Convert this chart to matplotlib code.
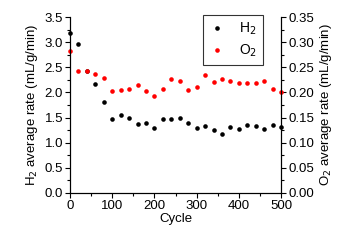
import matplotlib
matplotlib.use('Agg')
import matplotlib.pyplot as plt
from matplotlib.ticker import MultipleLocator

plt.rcParams['font.family'] = ['Liberation Sans', 'DejaVu Sans']

# data
cycle = [0, 20, 40, 60, 80, 100, 120, 140, 160, 180, 200, 220, 240, 260,
         280, 300, 320, 340, 360, 380, 400, 420, 440, 460, 480, 500]
h2 = [3.19, 2.96, 2.43, 2.16, 1.81, 1.48, 1.56, 1.50, 1.37, 1.39, 1.29, 1.48, 1.48, 1.50,
      1.40, 1.30, 1.33, 1.26, 1.18, 1.31, 1.28, 1.36, 1.33, 1.28, 1.35, 1.32]
o2 = [0.283, 0.243, 0.242, 0.237, 0.229, 0.202, 0.205, 0.207, 0.215, 0.202, 0.192, 0.207, 0.227, 0.223,
      0.205, 0.210, 0.235, 0.221, 0.227, 0.223, 0.218, 0.218, 0.218, 0.222, 0.206, 0.201]

fig = plt.figure(figsize=(3.59, 2.40), dpi=100)
ax = fig.add_axes([0.195, 0.196, 0.588, 0.733])
ax2 = ax.twinx()

l1, = ax.plot(cycle, h2, 'o', color='black', ms=3.3, mew=0, label='H$_2$', clip_on=False)
l2, = ax2.plot(cycle, o2, 'o', color='red', ms=3.3, mew=0, label='O$_2$', clip_on=False)

ax.set_xlim(0, 500)
ax.set_ylim(0, 3.5)
ax2.set_ylim(0, 0.35)
ax.xaxis.set_major_locator(MultipleLocator(100))
ax.xaxis.set_minor_locator(MultipleLocator(50))
ax.yaxis.set_major_locator(MultipleLocator(0.5))
ax.yaxis.set_minor_locator(MultipleLocator(0.25))
ax2.yaxis.set_major_locator(MultipleLocator(0.05))
ax2.yaxis.set_minor_locator(MultipleLocator(0.025))

for a in (ax, ax2):
    a.spines['top'].set_visible(False)
    a.tick_params(which='major', direction='out', length=3.5, width=0.8, labelsize=9.5, pad=1.5)
    a.tick_params(which='minor', direction='out', length=2, width=0.8)

ax.set_xlabel('Cycle', fontsize=9.5, labelpad=1)
ax.set_ylabel('H$_2$ average rate (mL/g/min)', fontsize=9.5, labelpad=3)
ax2.set_ylabel('O$_2$ average rate (mL/g/min)', fontsize=9.5, labelpad=3)

leg = ax.legend([l1, l2], ['H$_2$', 'O$_2$'], loc='upper right', bbox_to_anchor=(0.915, 1.01),
                borderaxespad=0, fontsize=10, frameon=True, fancybox=False, edgecolor='black',
                handletextpad=1.0, handlelength=1.2, borderpad=0.4, labelspacing=0.4)
leg.get_frame().set_linewidth(0.8)

fig.savefig('out.png', dpi=100)
